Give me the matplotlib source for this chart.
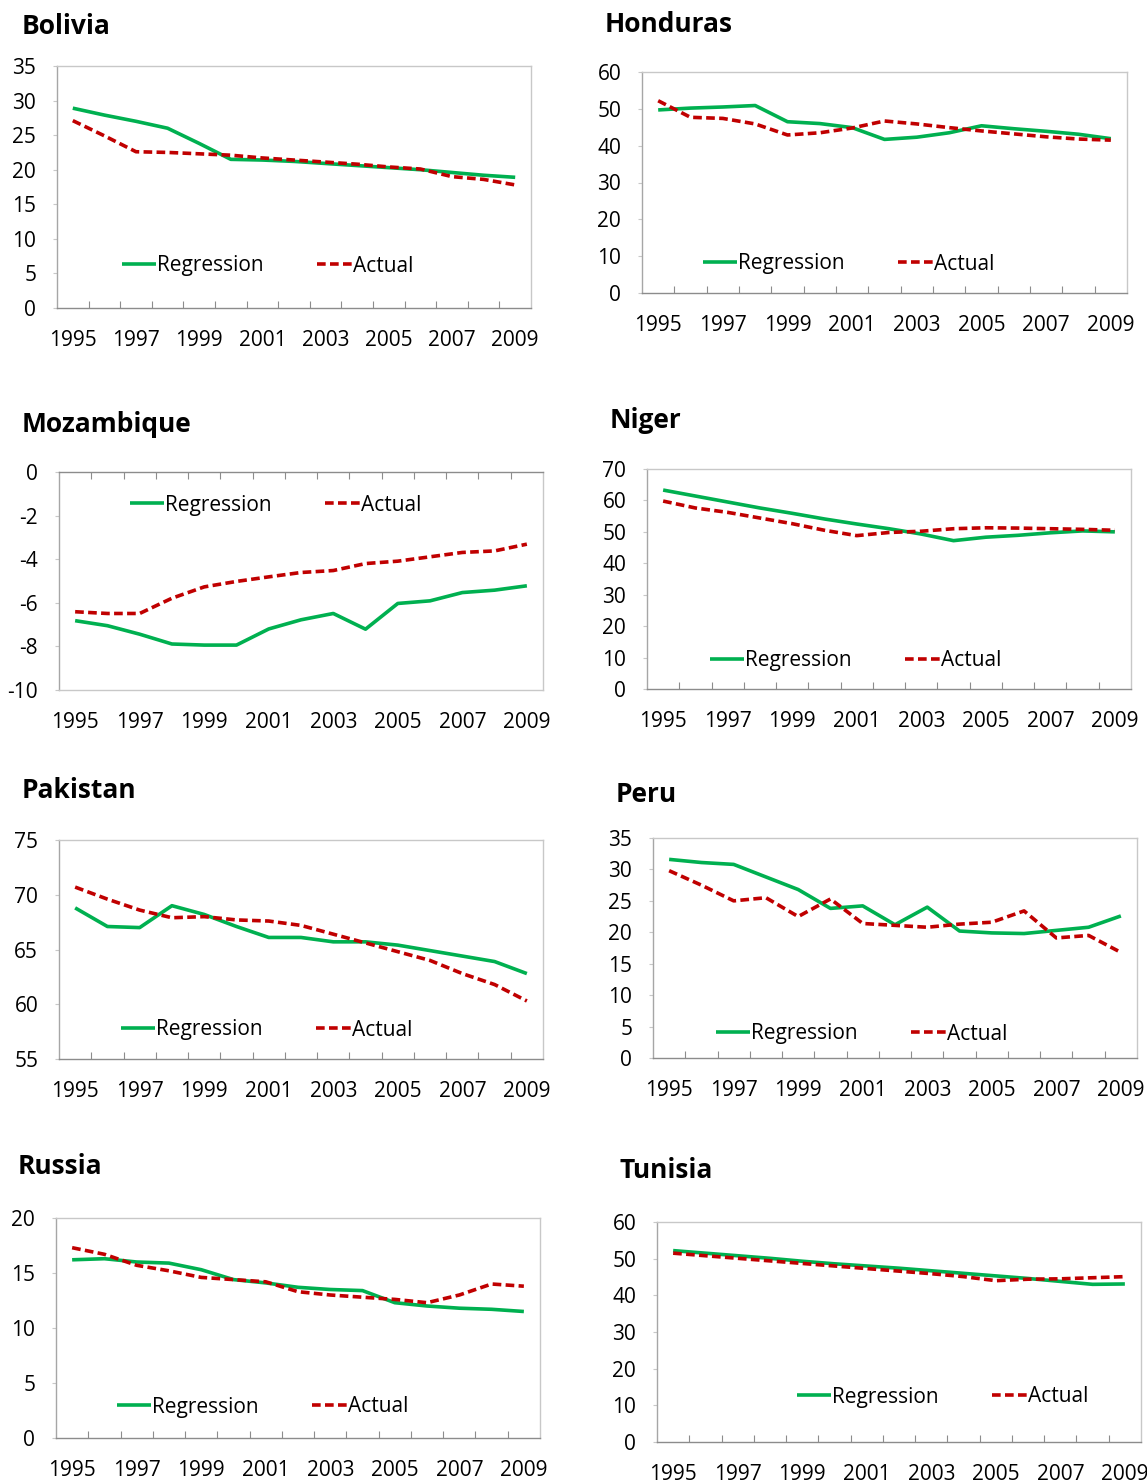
import matplotlib
matplotlib.use('Agg')
from matplotlib import pyplot as plt

plt.rcParams['font.family'] = ['Open Sans', 'DejaVu Sans']

years = list(range(1995, 2010))
year_labels = ['1995', '1997', '1999', '2001', '2003', '2005', '2007', '2009']

bolivia_reg = [28.9, 27.9, 27.0, 26.0, 23.8, 21.5, 21.4, 21.2, 20.9, 20.6, 20.3, 20.0, 19.6, 19.2, 18.9]
bolivia_act = [27.1, 24.9, 22.6, 22.5, 22.3, 22.1, 21.7, 21.4, 21.1, 20.8, 20.4, 20.1, 19.0, 18.6, 17.8]

honduras_reg = [49.7, 50.2, 50.5, 50.9, 46.5, 46.0, 44.9, 41.7, 42.3, 43.5, 45.4, 44.6, 43.9, 43.1, 41.9]
honduras_act = [52.2, 47.7, 47.4, 45.9, 42.9, 43.5, 44.8, 46.7, 45.9, 44.9, 44.0, 43.2, 42.4, 41.8, 41.5]

mozambique_reg = [-6.82, -7.05, -7.44, -7.89, -7.94, -7.94, -7.2, -6.78, -6.49, -7.21, -6.03, -5.91, -5.53, -5.42, -5.22]
mozambique_act = [-6.41, -6.49, -6.49, -5.79, -5.27, -5.02, -4.81, -4.61, -4.52, -4.2, -4.09, -3.89, -3.69, -3.62, -3.31]

niger_reg = [63.3, 61.4, 59.5, 57.6, 55.9, 54.1, 52.5, 51.0, 49.3, 47.2, 48.3, 48.9, 49.7, 50.3, 50.0]
niger_act = [59.8, 57.6, 56.2, 54.4, 52.6, 50.5, 48.8, 49.8, 50.2, 51.0, 51.3, 51.2, 51.0, 50.8, 50.5]

pakistan_reg = [68.8, 67.1, 67.0, 69.0, 68.2, 67.1, 66.1, 66.1, 65.7, 65.7, 65.4, 64.9, 64.4, 63.9, 62.8]
pakistan_act = [70.7, 69.6, 68.6, 67.9, 68.0, 67.7, 67.6, 67.2, 66.4, 65.6, 64.8, 64.0, 62.8, 61.8, 60.3]

peru_reg = [31.6, 31.1, 30.8, 28.8, 26.8, 23.8, 24.2, 21.2, 24.0, 20.2, 19.9, 19.8, 20.3, 20.8, 22.6]
peru_act = [29.8, 27.5, 25.0, 25.5, 22.5, 25.3, 21.4, 21.1, 20.8, 21.3, 21.6, 23.4, 19.1, 19.5, 16.8]

russia_reg = [16.2, 16.3, 16.0, 15.9, 15.3, 14.4, 14.1, 13.7, 13.5, 13.4, 12.3, 12.0, 11.8, 11.7, 11.5]
russia_act = [17.3, 16.7, 15.7, 15.2, 14.6, 14.4, 14.2, 13.3, 13.0, 12.8, 12.6, 12.3, 13.0, 14.0, 13.8]

tunisia_reg = [52.2, 51.5, 50.8, 50.1, 49.3, 48.6, 48.0, 47.4, 46.7, 46.0, 45.3, 44.6, 43.8, 43.0, 43.1]
tunisia_act = [51.5, 50.8, 50.1, 49.4, 48.7, 48.0, 47.3, 46.6, 45.9, 45.1, 44.0, 44.4, 44.5, 44.8, 45.1]

W, H = 1147, 1482
GREEN = '#00B050'
RED = '#C00000'
AXIS_DARK = '#8C8C8C'
AXIS_LIGHT = '#C8C8C8'
FS = 15

fig = plt.figure(figsize=(W / 100, H / 100), dpi=100)


def panel(title, reg, act, ylim, ystep, box, title_xy, legend_xy, top_axis=False):
    left, top, right, bottom = box
    ax = fig.add_axes([left / W, 1 - bottom / H, (right - left) / W, (bottom - top) / H])
    ax.plot(years, reg, color=GREEN, lw=2.6, label='Regression', solid_capstyle='butt')
    ax.plot(years, act, color=RED, lw=2.6, ls=(0, (2.4, 1.2)), label='Actual')
    ax.set_xlim(1994.5, 2009.5)
    ax.set_ylim(*ylim)

    yt = list(range(ylim[0], ylim[1] + 1, ystep))
    ax.set_yticks(yt)
    ax.set_yticklabels([str(v) for v in yt])
    ax.set_xticks(years[::2])
    ax.set_xticklabels(year_labels)
    ax.set_xticks([y + 0.5 for y in years[:-1]], minor=True)

    ax.tick_params(axis='y', which='major', direction='out', length=3, width=0.8,
                   color=AXIS_LIGHT, pad=12, labelsize=FS)
    ax.tick_params(axis='x', which='major', length=0, pad=15.5, labelsize=FS)
    if top_axis:
        # category axis crosses at 0, which is the top for this panel
        ax.tick_params(axis='x', which='minor', direction='in', length=5, width=0.8,
                       color=AXIS_DARK, bottom=False, top=True)
    else:
        ax.tick_params(axis='x', which='minor', direction='in', length=5, width=0.8,
                       color=AXIS_DARK)

    for side in ['left', 'right', 'top', 'bottom']:
        ax.spines[side].set_color(AXIS_LIGHT)
        ax.spines[side].set_linewidth(1.0)
    ax.spines['top' if top_axis else 'bottom'].set_color(AXIS_DARK)
    ax.spines['left'].set_color('#A6A6A6')

    fig.text(title_xy[0] / W, 1 - title_xy[1] / H, title, fontsize=19, fontweight='bold',
             ha='left', va='center')

    ax.legend(loc='center left', bbox_to_anchor=(legend_xy[0] / W, 1 - legend_xy[1] / H),
              bbox_transform=fig.transFigure, ncol=2, frameon=False, fontsize=FS,
              borderpad=0, borderaxespad=0, handlelength=1.65, handletextpad=0.05,
              columnspacing=2.55)
    return ax


panel('Bolivia', bolivia_reg, bolivia_act, (0, 35), 5, (57, 66, 531, 308), (22, 27), (122, 266))
panel('Honduras', honduras_reg, honduras_act, (0, 60), 10, (642, 72, 1127, 293), (605, 24), (703, 264))
panel('Mozambique', mozambique_reg, mozambique_act, (-10, 0), 2, (59, 472, 543, 690), (22, 424), (130, 505),
      top_axis=True)
panel('Niger', niger_reg, niger_act, (0, 70), 10, (647, 469, 1131, 689), (610, 421), (710, 661))
panel('Pakistan', pakistan_reg, pakistan_act, (55, 75), 5, (59, 840, 543, 1059), (22, 790), (121, 1030))
panel('Peru', peru_reg, peru_act, (0, 35), 5, (653, 838, 1137, 1058), (616, 795), (716, 1034))
panel('Russia', russia_reg, russia_act, (0, 20), 5, (56, 1218, 540, 1438), (18, 1167), (117, 1407))
panel('Tunisia', tunisia_reg, tunisia_act, (0, 60), 10, (657, 1222, 1141, 1442), (620, 1170), (797, 1397))

fig.savefig('out.png', dpi=100, facecolor='white')
